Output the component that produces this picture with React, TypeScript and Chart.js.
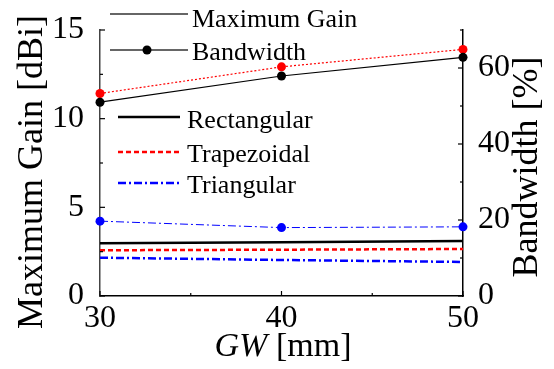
import React, { useEffect, useRef } from "react";
import { Chart, registerables } from "chart.js";

Chart.register(...registerables);

const gwValues = [30, 40, 50];
const gainRectangular = [2.97, 3.03, 3.1];
const gainTrapezoidal = [2.58, 2.61, 2.65];
const gainTriangular = [2.16, 2.03, 1.92];
const bwRectangular = [51.0, 57.9, 62.8];
const bwTrapezoidal = [53.3, 60.3, 64.9];
const bwTriangular = [19.7, 18.0, 18.2];

const xMajorTicks = [30, 40, 50];
const xMinorTicks = [35, 45];
const leftMajorTicks = [0, 5, 10, 15];
const leftMinorTicks = [2.5, 7.5, 12.5];
const rightMajorTicks = [0, 20, 40, 60];
const rightMinorTicks = [10, 30, 50, 70];

const shapeNames = ["Rectangular", "Trapezoidal", "Triangular"];
const groupNames = ["Maximum Gain", "Bandwidth"];

const FONT = '"Liberation Serif", "Times New Roman", serif';
const DASH_TRAP = [5, 3];
const DASH_TRI = [8, 3, 2, 3];

const pts = (ys: number[]) => gwValues.map((x, i) => ({ x, y: ys[i] }));

const overlay = {
  id: "overlay",
  afterDraw(chart: any) {
    const ctx = chart.ctx;
    const a = chart.chartArea;
    const sx = chart.scales.x;
    const yl = chart.scales.y;
    const yr = chart.scales.y1;
    ctx.save();
    ctx.strokeStyle = "#000";
    ctx.lineWidth = 1.2;
    const tick = (x1: number, y1: number, x2: number, y2: number) => {
      ctx.beginPath();
      ctx.moveTo(x1, y1);
      ctx.lineTo(x2, y2);
      ctx.stroke();
    };
    xMajorTicks.forEach((v) => { const p = sx.getPixelForValue(v); tick(p, a.bottom, p, a.bottom - 5); });
    xMinorTicks.forEach((v) => { const p = sx.getPixelForValue(v); tick(p, a.bottom, p, a.bottom - 3); });
    leftMajorTicks.forEach((v) => { const p = yl.getPixelForValue(v); tick(a.left, p, a.left + 5, p); });
    leftMinorTicks.forEach((v) => { const p = yl.getPixelForValue(v); tick(a.left, p, a.left + 3, p); });
    rightMajorTicks.forEach((v) => { const p = yr.getPixelForValue(v); tick(a.right, p, a.right - 5, p); });
    rightMinorTicks.forEach((v) => { const p = yr.getPixelForValue(v); tick(a.right, p, a.right - 3, p); });

    // axis titles
    ctx.fillStyle = "#000";
    ctx.font = `36px ${FONT}`;
    ctx.textAlign = "center";
    ctx.textBaseline = "middle";
    ctx.save();
    ctx.translate(33, 172);
    ctx.rotate(-Math.PI / 2);
    ctx.fillText("Maximum Gain [dBi]", 0, 0);
    ctx.restore();
    ctx.save();
    ctx.translate(528, 167);
    ctx.rotate(-Math.PI / 2);
    ctx.fillText("Bandwidth [%]", 0, 0);
    ctx.restore();

    // x title with italic GW
    ctx.textAlign = "left";
    ctx.textBaseline = "alphabetic";
    const italic = `italic 34px ${FONT}`;
    const normal = `34px ${FONT}`;
    ctx.font = italic;
    const w1 = ctx.measureText("GW").width;
    ctx.font = normal;
    const w2 = ctx.measureText(" [mm]").width;
    const x0 = 283 - (w1 + w2) / 2;
    ctx.font = italic;
    ctx.fillText("GW", x0, 356);
    ctx.font = normal;
    ctx.fillText(" [mm]", x0 + w1, 356);

    // legend
    ctx.font = `26px ${FONT}`;
    ctx.textBaseline = "alphabetic";
    ctx.strokeStyle = "#333";
    ctx.lineWidth = 1.5;
    ctx.setLineDash([]);
    tick(110, 14, 188, 14);
    ctx.fillText(groupNames[0], 192, 27);
    tick(110, 50, 188, 50);
    ctx.fillStyle = "#000";
    ctx.beginPath();
    ctx.arc(147, 50, 4.5, 0, Math.PI * 2);
    ctx.fill();
    ctx.fillText(groupNames[1], 192, 60);

    const rows = [
      { y: 117, base: 128, color: "#000", dash: [] as number[] },
      { y: 152, base: 162, color: "#ff0000", dash: DASH_TRAP },
      { y: 183, base: 193, color: "#0000ff", dash: DASH_TRI },
    ];
    rows.forEach((r, i) => {
      ctx.strokeStyle = r.color;
      ctx.lineWidth = 2.5;
      ctx.setLineDash(r.dash);
      tick(118, r.y, 180, r.y);
      ctx.setLineDash([]);
      ctx.fillStyle = "#000";
      ctx.fillText(shapeNames[i], 187, r.base);
    });
    ctx.restore();
  },
};

export default function App() {
  const ref = useRef<HTMLCanvasElement | null>(null);
  useEffect(() => {
    if (!ref.current) return;
    const tickFont = { family: FONT, size: 32 };
    const chart = new Chart(ref.current, {
      type: "line",
      data: {
        datasets: [
          { label: "Rectangular gain", data: pts(gainRectangular), yAxisID: "y", borderColor: "#000", borderWidth: 2.5, pointRadius: 0, clip: false },
          { label: "Trapezoidal gain", data: pts(gainTrapezoidal), yAxisID: "y", borderColor: "#ff0000", borderWidth: 2.5, borderDash: DASH_TRAP, pointRadius: 0, clip: false },
          { label: "Triangular gain", data: pts(gainTriangular), yAxisID: "y", borderColor: "#0000ff", borderWidth: 2.5, borderDash: DASH_TRI, pointRadius: 0, clip: false },
          { label: "Rectangular BW", data: pts(bwRectangular), yAxisID: "y1", borderColor: "#000", backgroundColor: "#000", borderWidth: 1.2, pointRadius: 4.5, pointBorderWidth: 0, clip: false },
          { label: "Trapezoidal BW", data: pts(bwTrapezoidal), yAxisID: "y1", borderColor: "#ff0000", backgroundColor: "#ff0000", borderWidth: 1.2, borderDash: [2, 2], pointRadius: 4.5, pointBorderWidth: 0, clip: false },
          { label: "Triangular BW", data: pts(bwTriangular), yAxisID: "y1", borderColor: "#0000ff", backgroundColor: "#0000ff", borderWidth: 1, borderDash: DASH_TRI, pointRadius: 4.5, pointBorderWidth: 0, clip: false },
        ] as any,
      },
      options: {
        responsive: false,
        devicePixelRatio: 1,
        animation: false,
        layout: { padding: { top: 30, left: 0, right: 0, bottom: 0 } },
        plugins: { legend: { display: false }, tooltip: { enabled: false } },
        scales: {
          x: {
            type: "linear",
            min: 30,
            max: 50,
            afterFit: (s: any) => { s.height = 73; },
            afterBuildTicks: (s: any) => { s.ticks = xMajorTicks.map((v) => ({ value: v })); },
            grid: { display: false },
            border: { display: true, color: "#000", width: 1.5 },
            ticks: { font: tickFont, color: "#000", padding: -5, autoSkip: false, maxRotation: 0 },
          },
          y: {
            type: "linear",
            position: "left",
            min: 0,
            max: 15,
            afterFit: (s: any) => { s.width = 100; },
            afterBuildTicks: (s: any) => { s.ticks = leftMajorTicks.map((v) => ({ value: v })); },
            grid: { display: false },
            border: { display: true, color: "#444", width: 1.5 },
            ticks: { font: tickFont, color: "#000", padding: 8, autoSkip: false },
          },
          y1: {
            type: "linear",
            position: "right",
            min: 0,
            max: 70,
            afterFit: (s: any) => { s.width = 91; },
            afterBuildTicks: (s: any) => { s.ticks = rightMajorTicks.map((v) => ({ value: v })); },
            grid: { display: false },
            border: { display: true, color: "#000", width: 1.5 },
            ticks: { font: tickFont, color: "#000", padding: 7, autoSkip: false },
          },
        },
      } as any,
      plugins: [overlay],
    });
    return () => chart.destroy();
  }, []);
  return (
    <div style={{ position: "absolute", left: 0, top: 0, width: 554, height: 369, background: "#fff" }}>
      <canvas ref={ref} width={554} height={369} style={{ display: "block" }} />
    </div>
  );
}
